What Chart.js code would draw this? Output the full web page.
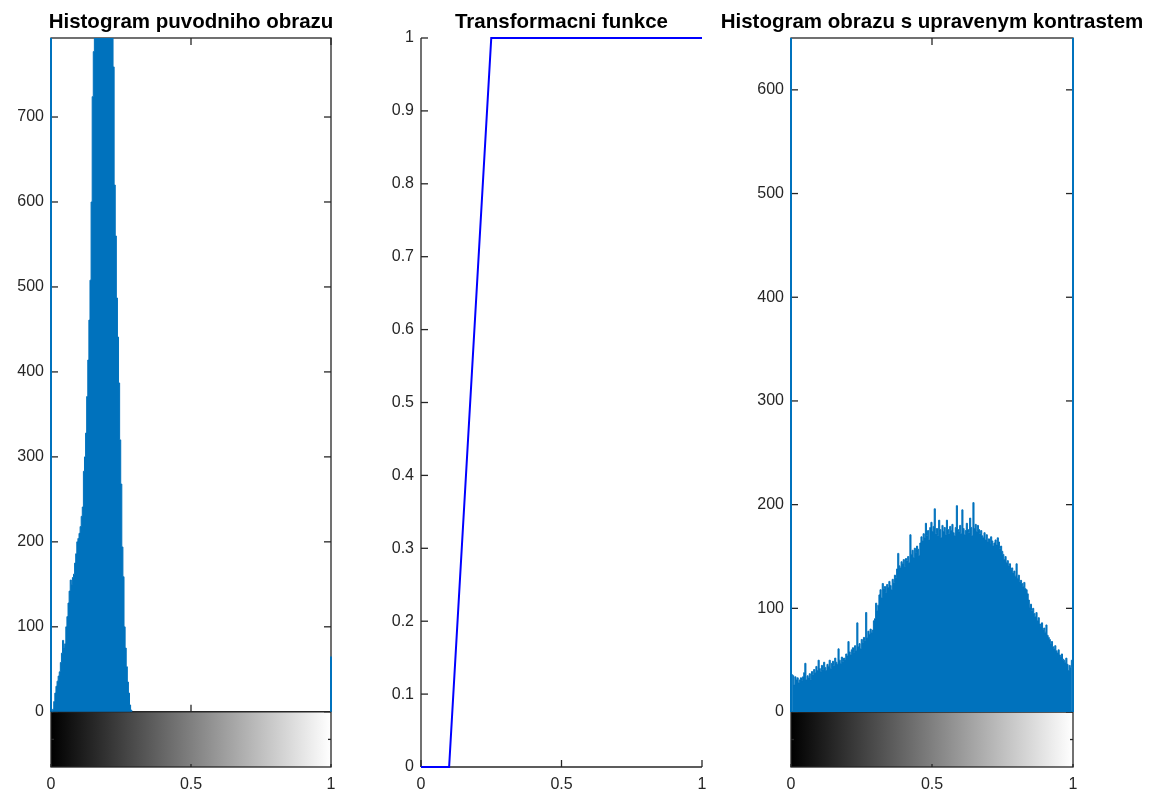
<!DOCTYPE html>
<html>
<head>
<meta charset="utf-8">
<script src="https://cdn.jsdelivr.net/npm/chart.js@4.4.0/dist/chart.umd.min.js"></script>
<style>
html, body { margin: 0; padding: 0; background: #fff; }
#wrap { position: relative; width: 1149px; height: 792px; }
#wrap canvas { position: absolute; left: 0; top: 0; }
</style>
</head>
<body>
<div id="wrap">
<canvas id="origChart" width="1149" height="792"></canvas>
<canvas id="transChart" width="1149" height="792"></canvas>
<canvas id="adjChart" width="1149" height="792"></canvas>
</div>
<script>
// Data (gray level i is drawn at x = i / 255)
const grayMax = 255;
const xTickValues = [0, 0.5, 1];

// Histogram puvodniho obrazu: counts for gray levels 1..74, plus levels 0 and 255
const origCounts = [
  0, 3, 12, 22, 30, 36, 42, 47, 58, 69,
  84, 76, 80, 100, 112, 128, 142, 155, 150, 158,
  162, 175, 186, 200, 204, 210, 218, 230, 241, 283,
  300, 328, 371, 414, 461, 508, 600, 724, 777, 820,
  860, 900, 940, 970, 990, 1000, 1005, 1000, 990, 970,
  940, 910, 880, 850, 815, 795, 759, 620, 560, 487,
  441, 387, 320, 268, 194, 159, 100, 75, 53, 35,
  22, 8, 2, 1
];
const origEdgeCounts = [900, 65];      // level 0, level 255
const origYTicks = [0, 100, 200, 300, 400, 500, 600, 700];

// Transformacni funkce
const transX = [0, 0.1, 0.25, 1];
const transY = [0, 0, 1, 1];
const transYTicks = [0, 0.1, 0.2, 0.3, 0.4, 0.5, 0.6, 0.7, 0.8, 0.9, 1];

// Histogram obrazu s upravenym kontrastem: counts for gray levels 1..254, plus levels 0 and 255
const adjCounts = [
  36, 35, 26, 34, 31, 33, 28, 31, 33, 30, 34, 38, 47, 31, 35, 33,
  37, 31, 39, 36, 41, 38, 44, 40, 50, 42, 39, 45, 41, 48, 43, 40,
  46, 44, 50, 42, 47, 49, 45, 52, 48, 46, 61, 50, 47, 53, 49, 52,
  51, 56, 54, 68, 58, 55, 60, 62, 57, 64, 59, 86, 63, 66, 61, 70,
  67, 72, 69, 96, 72, 78, 75, 80, 77, 79, 88, 90, 105, 98, 103, 113,
  118, 110, 124, 119, 121, 115, 123, 120, 126, 122, 118, 128, 125, 132, 130, 138,
  153, 141, 139, 145, 143, 147, 140, 148, 146, 150, 144, 171, 152, 156, 149, 158,
  154, 160, 157, 151, 163, 169, 165, 172, 168, 182, 170, 175, 166, 178, 183, 174,
  179, 196, 172, 177, 170, 185, 176, 168, 180, 174, 178, 171, 185, 176, 172, 179,
  175, 181, 173, 170, 178, 199, 176, 174, 180, 172, 195, 177, 171, 175, 182, 176,
  173, 187, 178, 170, 202, 177, 181, 174, 180, 176, 172, 175, 170, 168, 173, 166,
  171, 164, 167, 162, 169, 165, 160, 163, 166, 161, 168, 164, 158, 160, 155, 152,
  147, 150, 144, 146, 141, 143, 137, 139, 134, 136, 131, 143, 129, 132, 126, 127,
  124, 121, 125, 119, 118, 114, 108, 101, 104, 98, 100, 95, 92, 96, 88, 91,
  85, 82, 86, 79, 81, 77, 84, 74, 72, 70, 66, 68, 63, 61, 64, 59,
  57, 60, 55, 53, 56, 51, 50, 48, 52, 46, 40, 45, 43, 50
];
const adjEdgeCounts = [3300, 980];     // level 0, level 255
const adjYTicks = [0, 100, 200, 300, 400, 500, 600];

// Styles
const fontFamily = "'Liberation Sans', Arial, Helvetica, sans-serif";
const axisColor = '#262626';
const histBlue = '#0072BD';
const lineBlue = '#0000FF';

// Frame, inward ticks, grayscale bar and title, MATLAB style
const matlabFrame = {
  id: 'matlabFrame',
  beforeDatasetsDraw(chart, args, opts) {
    const { ctx, chartArea: a, scales: { x, y } } = chart;
    const tick = 7;
    const line = (x1, y1, x2, y2) => {
      ctx.beginPath();
      ctx.moveTo(x1, y1);
      ctx.lineTo(x2, y2);
      ctx.stroke();
    };
    ctx.save();
    ctx.strokeStyle = axisColor;
    ctx.lineWidth = 1.3;
    if (opts.colorbar) {
      const y0 = y.getPixelForValue(0);
      const grad = ctx.createLinearGradient(a.left, 0, a.right, 0);
      grad.addColorStop(0, '#000000');
      grad.addColorStop(1, '#ffffff');
      ctx.fillStyle = grad;
      ctx.fillRect(a.left, y0, a.right - a.left, a.bottom - y0);
      ctx.strokeRect(a.left, a.top, a.right - a.left, a.bottom - a.top);
      line(a.left, y0, a.right, y0);
      y.ticks.forEach(t => {
        const py = y.getPixelForValue(t.value);
        line(a.left, py, a.left + tick, py);
        line(a.right - tick, py, a.right, py);
      });
      x.ticks.forEach(t => {
        const px = x.getPixelForValue(t.value);
        line(px, a.top, px, a.top + tick);
        line(px, y0, px, y0 - tick);
        line(px, a.bottom, px, a.bottom - 3);
      });
      const ym = (y0 + a.bottom) / 2;
      line(a.left, ym, a.left + 3, ym);
      line(a.right - 3, ym, a.right, ym);
    } else {
      line(a.left, a.top, a.left, a.bottom);
      line(a.left, a.bottom, a.right, a.bottom);
      y.ticks.forEach(t => {
        const py = y.getPixelForValue(t.value);
        line(a.left, py, a.left + tick, py);
      });
      x.ticks.forEach(t => {
        const px = x.getPixelForValue(t.value);
        line(px, a.bottom, px, a.bottom - tick);
      });
    }
    ctx.restore();
  },
  afterDraw(chart, args, opts) {
    const { ctx, chartArea: a } = chart;
    ctx.save();
    ctx.fillStyle = '#000000';
    ctx.font = 'bold 20.5px ' + fontFamily;
    ctx.textAlign = 'center';
    ctx.textBaseline = 'alphabetic';
    ctx.fillText(opts.title, (a.left + a.right) / 2, 28);
    ctx.restore();
  }
};
Chart.register(matlabFrame);

function panelOptions(cfg) {
  const tickFont = { family: fontFamily, size: 16 };
  return {
    responsive: false,
    animation: false,
    layout: { padding: { left: cfg.padLeft, right: cfg.padRight, top: 38, bottom: 0 } },
    plugins: {
      legend: { display: false },
      tooltip: { enabled: false },
      title: { display: false },
      matlabFrame: { colorbar: cfg.colorbar, title: cfg.title }
    },
    scales: {
      x: {
        type: 'linear',
        min: 0,
        max: 1,
        offset: false,
        grid: { display: false, drawTicks: false },
        border: { display: false },
        afterBuildTicks: s => { s.ticks = xTickValues.map(v => ({ value: v })); },
        afterFit: s => { s.height = 25; },
        ticks: {
          color: axisColor, font: tickFont, padding: 8,
          maxRotation: 0, autoSkip: false,
          callback: v => String(v)
        }
      },
      y: {
        type: 'linear',
        min: cfg.yMin,
        max: cfg.yMax,
        grid: { display: false, drawTicks: false },
        border: { display: false },
        afterBuildTicks: s => { s.ticks = cfg.yTicks.map(v => ({ value: v })); },
        afterFit: s => { s.width = 51; },
        ticks: {
          color: axisColor, font: tickFont, padding: 7,
          autoSkip: false,
          callback: v => String(v)
        }
      }
    }
  };
}

// Histogram as one filled step outline (dense 256-bin histogram) plus stems at levels 0 and 255
function histDatasets(counts, edgeCounts) {
  const bins = counts.map((c, i) => ({ x: (i + 1) / grayMax, y: c }));
  const stem = (lvl, c) => ({
    data: [{ x: lvl / grayMax, y: 0 }, { x: lvl / grayMax, y: c }],
    borderColor: histBlue,
    borderWidth: 2,
    pointRadius: 0,
    fill: false,
    clip: { left: 3, right: 3, top: 0, bottom: 0 }
  });
  return [
    {
      data: bins,
      stepped: 'middle',
      fill: 'origin',
      backgroundColor: histBlue,
      borderColor: histBlue,
      borderWidth: 1,
      pointRadius: 0,
      clip: 0
    },
    stem(0, edgeCounts[0]),
    stem(grayMax, edgeCounts[1])
  ];
}

new Chart(document.getElementById('origChart'), {
  type: 'line',
  data: { datasets: histDatasets(origCounts, origEdgeCounts) },
  options: panelOptions({
    title: 'Histogram puvodniho obrazu',
    padLeft: 0, padRight: 1149 - 331,
    yMin: -65, yMax: 793, yTicks: origYTicks, colorbar: true
  })
});

new Chart(document.getElementById('transChart'), {
  type: 'line',
  data: {
    datasets: [{
      data: transX.map((v, i) => ({ x: v, y: transY[i] })),
      borderColor: lineBlue,
      borderWidth: 2,
      pointRadius: 0,
      tension: 0,
      clip: false
    }]
  },
  options: panelOptions({
    title: 'Transformacni funkce',
    padLeft: 370, padRight: 1149 - 702,
    yMin: 0, yMax: 1, yTicks: transYTicks, colorbar: false
  })
});

new Chart(document.getElementById('adjChart'), {
  type: 'line',
  data: { datasets: histDatasets(adjCounts, adjEdgeCounts) },
  options: panelOptions({
    title: 'Histogram obrazu s upravenym kontrastem',
    padLeft: 740, padRight: 1149 - 1073,
    yMin: -53, yMax: 650, yTicks: adjYTicks, colorbar: true
  })
});
</script>
</body>
</html>
